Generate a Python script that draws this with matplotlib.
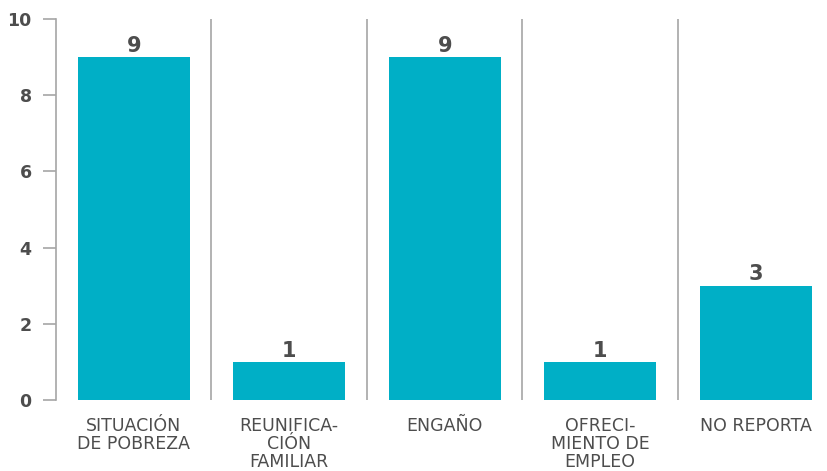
import matplotlib.pyplot as plt

categorias = ["SITUACIÓN\nDE POBREZA", "REUNIFICA-\nCIÓN\nFAMILIAR", "ENGAÑO",
              "OFRECI-\nMIENTO DE\nEMPLEO", "NO REPORTA"]
valores = [9, 1, 9, 1, 3]
yticks = [0, 2, 4, 6, 8, 10]

color_barra = "#00afc6"
gris_linea = "#a6a6a6"
gris_texto = "#4d4d4d"

plt.rcParams['font.family'] = ['DejaVu Sans']

fig = plt.figure(figsize=(8.28, 4.71), dpi=100)
ax = fig.add_axes([56 / 828, 1 - 400 / 471, 1 - 56 / 828, 381 / 471])

x = range(len(categorias))
ax.bar(x, valores, width=0.72, color=color_barra, zorder=2)

# etiquetas de valor encima de cada barra
for xi, v in zip(x, valores):
    ax.text(xi, v + 0.14, str(v), ha="center", va="baseline",
            fontsize=15, fontweight="bold", color=gris_texto)

# separadores verticales entre categorías
for i in range(1, len(categorias)):
    ax.axvline(i - 0.5, color=gris_linea, lw=1.2, zorder=1)

ax.set_xlim(-0.5, len(categorias) - 0.5 - 5.5 / 155.5)
ax.set_ylim(0, 10)
ax.set_yticks(yticks)
ax.set_yticklabels([str(t) for t in yticks], fontsize=12.5, fontweight="bold", color=gris_texto)
ax.tick_params(axis="y", length=9.5, width=1.2, color=gris_linea, pad=8)

ax.set_xticks(list(x))
ax.set_xticklabels(categorias, fontsize=12.5, color=gris_texto, linespacing=1.0, va="top")
ax.tick_params(axis="x", length=0, pad=12)

for lado in ["top", "right", "bottom"]:
    ax.spines[lado].set_visible(False)
ax.spines["left"].set_color(gris_linea)
ax.spines["left"].set_linewidth(1.2)

fig.savefig("out.png", dpi=100)
